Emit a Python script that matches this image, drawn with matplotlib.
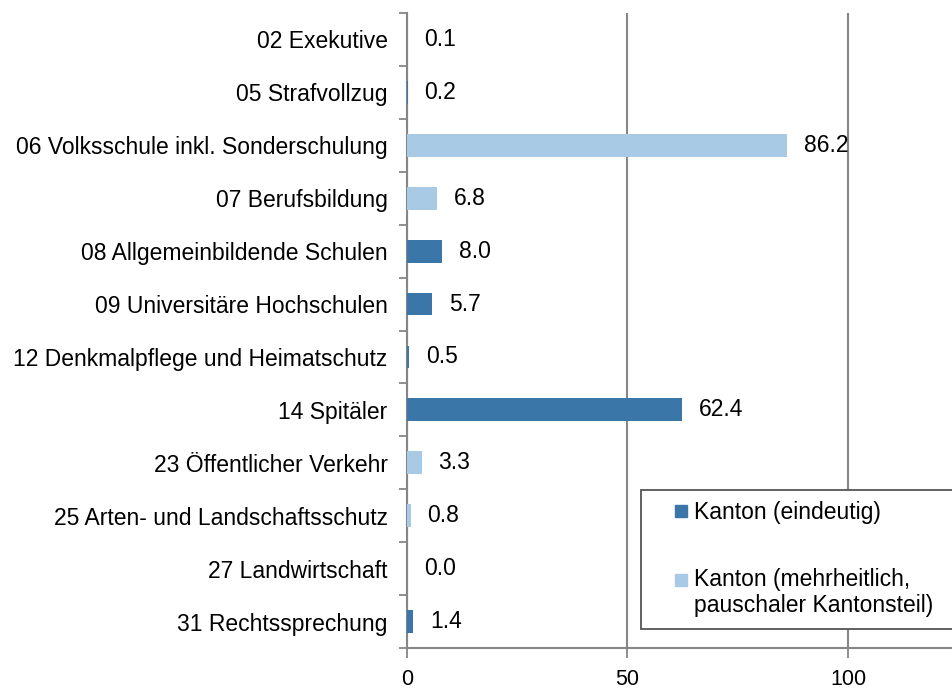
import matplotlib
matplotlib.use("Agg")
import matplotlib.pyplot as plt
from matplotlib.patches import Patch, Rectangle
from matplotlib.legend_handler import HandlerPatch

categories = [
    "02 Exekutive",
    "05 Strafvollzug",
    "06 Volksschule inkl. Sonderschulung",
    "07 Berufsbildung",
    "08 Allgemeinbildende Schulen",
    "09 Universitäre Hochschulen",
    "12 Denkmalpflege und Heimatschutz",
    "14 Spitäler",
    "23 Öffentlicher Verkehr",
    "25 Arten- und Landschaftsschutz",
    "27 Landwirtschaft",
    "31 Rechtssprechung",
]
values = [0.1, 0.2, 86.2, 6.8, 8.0, 5.7, 0.5, 62.4, 3.3, 0.8, 0.0, 1.4]
series = ["eindeutig", "eindeutig", "mehrheitlich", "mehrheitlich", "eindeutig",
          "eindeutig", "eindeutig", "eindeutig", "mehrheitlich", "mehrheitlich",
          "eindeutig", "eindeutig"]
legend_labels = ["Kanton (eindeutig)", "Kanton (mehrheitlich,\npauschaler Kantonsteil)"]
xticks = [0, 50, 100]

dark = "#3A76A8"
light = "#A8CAE4"
colors = {"eindeutig": dark, "mehrheitlich": light}

plt.rcParams['font.family'] = ['Liberation Sans', 'DejaVu Sans']

fig = plt.figure(figsize=(9.52, 6.88), dpi=100)
ax = fig.add_axes([407/952, 1 - 648/688, 1 - 407/952, (648 - 13)/688])

n = len(categories)
ypos = list(range(n))
ax.barh(ypos, values, height=0.43, color=[colors[s] for s in series], zorder=3)

for y, v in zip(ypos, values):
    ax.annotate(f"{v:.1f}", xy=(v, y), xytext=(12, 0), textcoords="offset points",
                ha="left", va="center", fontsize=16.5, color="black")

ax.set_xlim(0, 123.6)
ax.set_ylim(n - 0.5, -0.5)
ax.set_xticks(xticks)
ax.set_xticklabels([str(t) for t in xticks], fontsize=15.5)
ax.set_yticks(ypos)
ax.set_yticklabels(categories, fontsize=16.5)
ax.tick_params(axis="y", length=0, pad=14)
ax.set_yticks([i + 0.5 for i in range(-1, n)], minor=True)
ax.tick_params(axis="y", which="minor", length=6, width=1.3, color="#868686")
ax.tick_params(axis="x", length=7, width=1.3, color="#868686", pad=8)

ax.set_axisbelow(True)
ax.grid(axis="x", color="#868686", linewidth=1.5, zorder=0)
for s in ["top", "right"]:
    ax.spines[s].set_visible(False)
for s in ["left", "bottom"]:
    ax.spines[s].set_color("#868686")
    ax.spines[s].set_linewidth(1.5)


def make_square(shift):
    def func(legend, orig_handle, xdescent, ydescent, width, height, fontsize):
        s = 8.5
        return Rectangle((-xdescent + width - s, -ydescent + height / 2 - s / 2 + shift), s, s)
    return func


handles = [Patch(color=dark), Patch(color=light)]
handler_map = {handles[0]: HandlerPatch(patch_func=make_square(0)),
               handles[1]: HandlerPatch(patch_func=make_square(10))}
leg = ax.legend(handles, legend_labels,
                loc="lower left", bbox_to_anchor=((641 - 407) / 545, 0.03),
                fontsize=16.5, frameon=False,
                handlelength=1.5, handleheight=0.6, handletextpad=0.3,
                labelspacing=1.9, borderpad=0.5, borderaxespad=0,
                handler_map=handler_map)
leg.set_zorder(8)

# Opaque legend frame extending past the right edge (as in the reference)
fig.canvas.draw()
bb = leg.get_window_extent().transformed(ax.transAxes.inverted())
frame = Rectangle((bb.x0, bb.y0), 1.2 - bb.x0, bb.height, transform=ax.transAxes,
                  facecolor="white", edgecolor="#555555", linewidth=1.3,
                  zorder=7, clip_on=False)
ax.add_patch(frame)

fig.savefig("out.png", dpi=100, facecolor="white")
